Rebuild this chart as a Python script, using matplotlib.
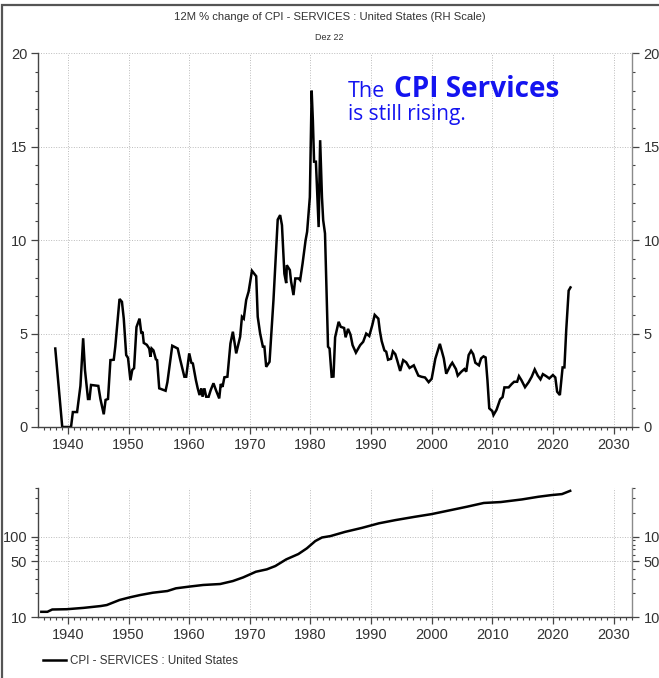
import matplotlib
matplotlib.use("Agg")
import matplotlib.pyplot as plt
from matplotlib.patches import Rectangle
from matplotlib.ticker import MultipleLocator, FixedLocator, FixedFormatter, NullFormatter, LogLocator

# 12M % change of CPI services (read as year fraction, percent)
chg_year = [1937.9, 1939.05, 1940.5, 1940.8, 1941.5, 1942.05, 1942.5, 1942.8, 1943.3, 1943.55,
            1943.8, 1945.0, 1945.35, 1945.9, 1946.2, 1946.6, 1947.0, 1947.55, 1947.8, 1948.5,
            1948.9, 1949.2, 1949.6, 1949.9, 1950.3, 1950.6, 1950.9, 1951.3, 1951.8, 1952.1,
            1952.3, 1952.5, 1953.0, 1953.4, 1953.6, 1953.8, 1954.1, 1954.5, 1954.7, 1955.05,
            1956.1, 1956.4, 1957.2, 1958.1, 1958.5, 1959.2, 1959.5, 1960.0, 1960.35, 1960.6,
            1961.1, 1961.4, 1961.7, 1962.0, 1962.2, 1962.5, 1962.8, 1963.2, 1963.55, 1964.0,
            1964.4, 1964.95, 1965.2, 1965.5, 1965.8, 1966.3, 1966.8, 1967.2, 1967.75, 1968.4,
            1968.7, 1969.0, 1969.4, 1969.8, 1970.35, 1971.05, 1971.3, 1971.7, 1972.15, 1972.4,
            1972.7, 1973.25, 1973.9, 1974.6, 1975.0, 1975.3, 1975.7, 1976.0, 1976.1, 1976.6,
            1976.8, 1977.2, 1977.5, 1978.05, 1978.3, 1978.7, 1979.2, 1979.45, 1979.9, 1980.2,
            1980.4, 1980.6, 1980.9, 1981.35, 1981.6, 1981.9, 1982.1, 1982.4, 1982.9, 1983.15,
            1983.5, 1983.8, 1984.07, 1984.65, 1985.0, 1985.55, 1985.8, 1986.2, 1986.6, 1986.95,
            1987.5, 1988.2, 1988.7, 1989.2, 1989.7, 1990.2, 1990.6, 1991.2, 1991.45, 1991.75,
            1992.2, 1992.5, 1992.8, 1993.3, 1993.6, 1994.0, 1994.3, 1994.8, 1995.3, 1995.8,
            1996.35, 1997.05, 1997.8, 1998.3, 1998.9, 1999.5, 2000.0, 2000.6, 2001.35, 2002.0,
            2002.4, 2003.1, 2003.4, 2004.0, 2004.3, 2004.9, 2005.4, 2005.7, 2006.1, 2006.5,
            2006.85, 2007.2, 2007.8, 2008.15, 2008.55, 2008.9, 2009.2, 2009.5, 2010.0, 2010.2,
            2010.7, 2011.3, 2011.7, 2012.0, 2012.7, 2013.2, 2013.6, 2014.1, 2014.4, 2014.8,
            2015.4, 2016.0, 2016.5, 2017.0, 2017.5, 2017.95, 2018.35, 2018.9, 2019.4, 2020.0,
            2020.4, 2020.7, 2021.15, 2021.6, 2021.9, 2022.2, 2022.6, 2022.9]
chg_pct = [4.2, 0.0, 0.0, 0.8, 0.8, 2.2, 4.75, 3.05, 1.5, 1.5,
           2.25, 2.2, 1.5, 0.68, 1.45, 1.5, 3.58, 3.6, 4.3, 6.85,
           6.7, 5.8, 3.85, 3.7, 2.5, 3.05, 3.15, 5.35, 5.8, 5.0,
           5.1, 4.5, 4.4, 4.2, 3.76, 4.2, 4.1, 3.62, 3.58, 2.07,
           1.94, 2.4, 4.35, 4.2, 3.62, 2.69, 2.69, 3.94, 3.44, 3.4,
           2.51, 2.07, 1.71, 2.07, 1.62, 2.07, 1.62, 1.62, 1.98, 2.34,
           1.98, 1.53, 2.3, 2.15, 2.66, 2.69, 4.47, 5.1, 3.94, 4.83,
           5.9, 5.8, 6.8, 7.25, 8.36, 8.07, 5.9, 5.0, 4.3, 4.3,
           3.22, 3.49, 6.8, 11.1, 11.34, 10.8, 8.2, 7.7, 8.66, 8.4,
           7.8, 7.06, 7.95, 7.95, 7.86, 8.75, 10.0, 10.45, 12.3, 18.0,
           16.4, 14.2, 14.2, 10.7, 15.35, 12.3, 11.07, 10.36, 4.3, 4.2,
           2.69, 2.7, 4.8, 5.63, 5.36, 5.3, 4.8, 5.25, 4.95, 4.38,
           3.98, 4.38, 4.56, 5.0, 4.87, 5.45, 6.0, 5.8, 5.15, 4.6,
           4.1, 4.03, 3.6, 3.65, 4.05, 3.9, 3.58, 3.0, 3.58, 3.46,
           3.16, 3.3, 2.75, 2.69, 2.65, 2.4, 2.58, 3.65, 4.45, 3.67,
           2.85, 3.3, 3.44, 3.1, 2.75, 2.96, 3.1, 2.96, 3.85, 4.08,
           3.9, 3.44, 3.3, 3.67, 3.78, 3.72, 2.51, 1.0, 0.85, 0.64,
           0.92, 1.48, 1.6, 2.12, 2.12, 2.3, 2.42, 2.42, 2.72, 2.51,
           2.13, 2.4, 2.69, 3.08, 2.75, 2.55, 2.83, 2.72, 2.6, 2.78,
           2.65, 1.89, 1.71, 3.19, 3.19, 5.19, 7.3, 7.47]

# CPI services index level (log panel)
lvl_year = [1935.6, 1936.6, 1937.4, 1939.8, 1942.6, 1945.4, 1946.4, 1948.5, 1950.2, 1951.9,
            1954.0, 1956.4, 1957.8, 1959.9, 1962.3, 1965.1, 1967.2, 1968.9, 1971.0, 1972.8,
            1974.2, 1976.0, 1978.0, 1979.4, 1980.8, 1981.9, 1983.3, 1985.7, 1988.5, 1991.3,
            1994.0, 1997.2, 1999.95, 2003.1, 2005.8, 2008.6, 2011.4, 2014.9, 2017.6, 2019.7,
            2021.5, 2022.85]
lvl_index = [11.7, 11.7, 12.5, 12.6, 13.1, 13.8, 14.2, 16.4, 17.7, 18.9,
             20.2, 21.2, 22.9, 24.0, 25.2, 25.9, 28.2, 31.3, 36.8, 39.4,
             43.3, 52.4, 61.0, 71.8, 88.5, 98.0, 102.0, 115.0, 129.0, 147.0,
             161.0, 177.0, 191.0, 214.0, 236.0, 263.0, 270.0, 291.0, 314.0, 329.0,
             339.0, 372.0]
lvl_ticks = [10, 50, 100]

sans = ["Liberation Sans", "DejaVu Sans"]
txt = "#333333"
grid_kw = dict(color="#bcbcbc", ls=(0, (1, 1.6)), lw=0.7)

fig = plt.figure(figsize=(6.59, 6.78), dpi=100)
W, H = 659, 678
x0, x1 = 38.3 / W, 632.3 / W

def style_axis(ax):
    ax.set_xlim(1935.1, 2033.1)
    ax.xaxis.set_major_locator(FixedLocator(range(1940, 2031, 10)))
    ax.xaxis.set_minor_locator(MultipleLocator(1))
    ax.tick_params(which="both", direction="out", colors="#444444", labelcolor=txt,
                   labelsize=10.5, right=True, labelright=True, top=False)
    ax.tick_params(which="major", length=5, width=0.9, pad=3)
    ax.tick_params(which="minor", length=2.5, width=0.8)
    for lab in ax.get_xticklabels() + ax.get_yticklabels():
        lab.set_family(sans)
    ax.spines["top"].set_visible(False)
    ax.spines["left"].set_color("#444444")
    ax.spines["bottom"].set_color("#444444")
    ax.spines["right"].set_color("#8a8a8a")
    for s in ax.spines.values():
        s.set_linewidth(1.0)
    ax.grid(True, which="major", **grid_kw)
    ax.set_axisbelow(True)

# top panel: year-on-year change
ax1 = fig.add_axes([x0, 1 - 427 / H, x1 - x0, (427 - 53.3) / H])
ax1.plot(chg_year, chg_pct, color="black", lw=1.8, solid_joinstyle="miter")
ax1.set_ylim(0, 20)
ax1.yaxis.set_major_locator(FixedLocator([0, 5, 10, 15, 20]))
ax1.yaxis.set_minor_locator(MultipleLocator(1))
style_axis(ax1)

# bottom panel: index level, log scale
ax2 = fig.add_axes([x0, 1 - 617.3 / H, x1 - x0, (617.3 - 488.3) / H])
ax2.plot(lvl_year, lvl_index, color="black", lw=1.8, label="CPI - SERVICES : United States")
ax2.set_yscale("log")
ax2.set_ylim(10, 400)
ax2.yaxis.set_major_locator(FixedLocator(lvl_ticks))
ax2.yaxis.set_major_formatter(FixedFormatter([str(v) for v in lvl_ticks]))
ax2.yaxis.set_minor_locator(LogLocator(base=10, subs=range(2, 10)))
ax2.yaxis.set_minor_formatter(NullFormatter())
style_axis(ax2)

fig.text(0.5, 1 - 17 / H, "12M % change of CPI - SERVICES : United States (RH Scale)",
         ha="center", va="center", fontsize=8.1, color=txt, family=sans)
fig.text(0.5, 1 - 37 / H, "Dez 22", ha="center", va="center", fontsize=6.5,
         color=txt, family=sans)

blue = "#1414f0"
fig.text(348 / W, 1 - 97 / H, "The", ha="left", va="baseline", fontsize=15.5,
         color=blue, family="Open Sans")
fig.text(394 / W, 1 - 97 / H, "CPI Services", ha="left", va="baseline", fontsize=20.1,
         color=blue, family="Open Sans", fontweight="bold")
fig.text(348 / W, 1 - 120 / H, "is still rising.", ha="left", va="baseline", fontsize=15,
         color=blue, family="Open Sans")

leg = fig.legend(loc="center left", bbox_to_anchor=(43 / W, 1 - 661 / H), frameon=False,
                 handlelength=2.0, handletextpad=0.35, borderaxespad=0, borderpad=0,
                 prop={"family": sans, "size": 8.4})
for t in leg.get_texts():
    t.set_color(txt)

# outer frame of the chart
fig.patches.append(Rectangle((2 / W, -0.05), 1.2, 1.05 - 5 / H, transform=fig.transFigure,
                             fill=False, ec="#555555", lw=1.6))

fig.savefig("out.png", dpi=100)
